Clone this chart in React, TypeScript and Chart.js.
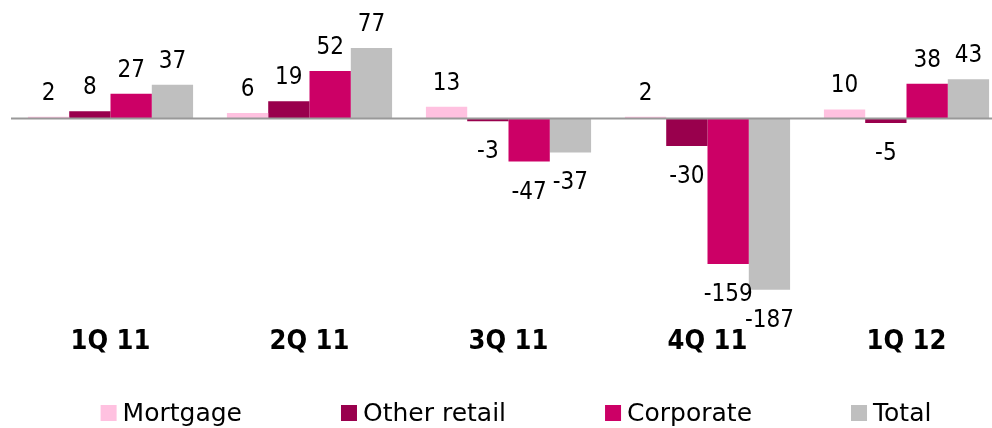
import React, { useEffect, useRef } from "react";
import { Chart, registerables } from "chart.js";

Chart.register(...registerables);

const categories = ["1Q 11", "2Q 11", "3Q 11", "4Q 11", "1Q 12"];
const mortgage = [2, 6, 13, 2, 10];
const otherRetail = [8, 19, -3, -30, -5];
const corporate = [27, 52, -47, -159, 38];
const total = [37, 77, -37, -187, 43];
const seriesNames = ["Mortgage", "Other retail", "Corporate", "Total"];
const seriesColors = ["#FFC1E0", "#99004D", "#CC0066", "#BFBFBF"];
const yMin = -200;
const yMax = 100;

const zeroLinePlugin = {
  id: "zeroLine",
  afterDatasetsDraw(chart: any) {
    const { ctx, chartArea, scales } = chart;
    const y = scales.y.getPixelForValue(0);
    ctx.save();
    ctx.strokeStyle = "#999999";
    ctx.lineWidth = 2;
    ctx.beginPath();
    ctx.moveTo(chartArea.left, y);
    ctx.lineTo(chart.width, y);
    ctx.stroke();
    ctx.restore();
  },
};

const valueLabelPlugin = {
  id: "valueLabels",
  afterDatasetsDraw(chart: any) {
    const { ctx } = chart;
    ctx.save();
    ctx.font = "24px 'DejaVu Sans Condensed'";
    ctx.fillStyle = "#000000";
    ctx.textAlign = "center";
    ctx.textBaseline = "alphabetic";
    chart.data.datasets.forEach((ds: any, di: number) => {
      const meta = chart.getDatasetMeta(di);
      meta.data.forEach((bar: any, i: number) => {
        const v = ds.data[i];
        const y = v >= 0 ? bar.y - 17 : bar.y + 37;
        ctx.fillText(String(v), bar.x, y);
      });
    });
    ctx.restore();
  },
};

const legendPlugin = {
  id: "customLegend",
  afterDraw(chart: any) {
    const { ctx } = chart;
    const box = 16;
    const gapText = 6;
    const gapItem = 99;
    const centerX = 516;
    const baseline = 421;
    ctx.save();
    ctx.font = "25px 'DejaVu Sans'";
    ctx.textBaseline = "alphabetic";
    ctx.textAlign = "left";
    const widths = chart.data.datasets.map(
      (ds: any) => box + gapText + ctx.measureText(ds.label).width
    );
    const totalW =
      widths.reduce((a: number, b: number) => a + b, 0) +
      gapItem * (widths.length - 1);
    let x = centerX - totalW / 2;
    chart.data.datasets.forEach((ds: any, i: number) => {
      ctx.fillStyle = ds.backgroundColor;
      ctx.fillRect(x, baseline - box, box, box);
      ctx.fillStyle = "#000000";
      ctx.fillText(ds.label, x + box + gapText, baseline);
      x += widths[i] + gapItem;
    });
    ctx.restore();
  },
};

export default function App() {
  const canvasRef = useRef<HTMLCanvasElement | null>(null);

  useEffect(() => {
    const canvas = canvasRef.current;
    if (!canvas) return;
    const seriesData = [mortgage, otherRetail, corporate, total];
    const chart = new Chart(canvas, {
      type: "bar",
      data: {
        labels: categories,
        datasets: seriesNames.map((name, i) => ({
          label: name,
          data: seriesData[i],
          backgroundColor: seriesColors[i],
          borderWidth: 0,
          categoryPercentage: 0.83,
          barPercentage: 1,
        })),
      },
      options: {
        responsive: false,
        animation: false,
        devicePixelRatio: 1,
        layout: { padding: { left: 11, right: 34, top: 27, bottom: 46 } },
        plugins: {
          legend: { display: false },
          tooltip: { enabled: false },
        },
        scales: {
          x: {
            grid: { display: false, drawTicks: false },
            border: { display: false },
            ticks: {
              color: "#000000",
              font: { family: "'DejaVu Sans Condensed'", size: 27, weight: "bold" },
              padding: 24,
              autoSkip: false,
              maxRotation: 0,
            },
          },
          y: {
            display: false,
            min: yMin,
            max: yMax,
          },
        },
      },
      plugins: [zeroLinePlugin, valueLabelPlugin, legendPlugin],
    });
    return () => chart.destroy();
  }, []);

  return (
    <div
      style={{
        position: "fixed",
        left: 0,
        top: 0,
        width: 992,
        height: 428,
        overflow: "hidden",
        background: "#ffffff",
      }}
    >
      <canvas ref={canvasRef} width={1040} height={428} style={{ display: "block" }} />
    </div>
  );
}
